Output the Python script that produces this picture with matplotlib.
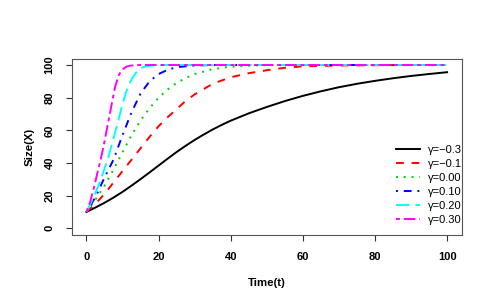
import matplotlib
matplotlib.use("Agg")
import matplotlib.pyplot as plt

plt.rcParams["font.family"] = ["Liberation Sans", "DejaVu Sans"]

# valori (t, X) per ogni gamma
t_m03 = [0, 2.5, 5, 7.5, 10, 12.5, 15, 17.5, 20, 22.5, 25, 27.5, 30, 32.5, 35, 37.5, 40,
         45, 50, 55, 60, 65, 70, 75, 80, 85, 90, 95, 100]
x_m03 = [10, 12.7, 15.6, 18.8, 22.3, 26.1, 30.1, 34.2, 38.4, 42.6, 46.7, 50.5, 54.1,
         57.4, 60.5, 63.3, 65.9, 70.4, 74.3, 77.9, 81.1, 83.9, 86.4, 88.5, 90.3, 91.9,
         93.3, 94.5, 95.6]

t_m01 = [0, 2.5, 5, 7.5, 10, 12.5, 15, 17.5, 20, 22.5, 25, 27.5, 30, 35, 40, 45, 50,
         55, 60, 70, 80, 90, 100]
x_m01 = [10, 15, 21, 28, 35, 42, 49, 56, 62.5, 68, 73, 78, 82, 88.5, 92.5, 95, 96.8,
         98.3, 99.2, 99.7, 99.9, 100, 100]

t_000 = [0, 2.5, 5, 7.5, 10, 12.5, 15, 17.5, 20, 22.5, 25, 27.5, 30, 35, 40, 45, 50, 60, 100]
x_000 = [10, 17.5, 26, 36, 46.5, 57, 66, 73.5, 80, 85, 89, 92, 94.5, 97.5, 99, 99.6,
         99.9, 100, 100]

t_010 = [0, 2.5, 5, 7.5, 10, 12.5, 15, 17.5, 20, 22.5, 25, 30, 35, 100]
x_010 = [10, 19, 31, 42, 57, 71, 82.5, 90, 94.5, 97, 98.7, 99.7, 100, 100]

t_020 = [0, 2, 4, 6, 8, 10, 11, 12, 13, 14, 15, 16, 18, 20, 25, 100]
x_020 = [10, 19, 30, 43, 59, 76, 83.5, 89, 93, 96, 97.8, 98.9, 99.7, 100, 100, 100]

t_030 = [0, 1, 2, 3, 4, 5, 6, 7, 8, 9, 10, 11, 12, 14, 16, 100]
x_030 = [10, 16, 24, 33.5, 42.5, 53, 64.5, 76, 87, 94, 97.3, 98.9, 99.6, 100, 100, 100]

labels = ["γ=−0.3", "γ=−0.1", "γ=0.00", "γ=0.10", "γ=0.20", "γ=0.30"]

SERIES = [
    (t_m03, x_m03, "#000000", "-"),
    (t_m01, x_m01, "#FF0000", (0, (4, 4))),
    (t_000, x_000, "#00CD00", (0, (1, 3))),
    (t_010, x_010, "#0000FF", (0, (1, 3, 4, 3))),
    (t_020, x_020, "#00FFFF", (0, (7, 3))),
    (t_030, x_030, "#FF00FF", (0, (2, 2, 6, 2))),
]

fig = plt.figure(figsize=(4.91, 3.07), dpi=100)
ax = fig.add_axes([72 / 491, 1 - 234.8 / 307, (461.5 - 72) / 491, (234.8 - 58.5) / 307])

for (t, x, col, ls), lab in zip(SERIES, labels):
    ax.plot(t, x, color=col, linestyle=ls, linewidth=1.4, label=lab)

ax.set_xlim(-4, 104)
ax.set_ylim(-4, 104)
ax.set_xticks([0, 20, 40, 60, 80, 100])
ax.set_yticks([0, 20, 40, 60, 80, 100])

for s in ax.spines.values():
    s.set_color("#555555")
    s.set_linewidth(0.8)

ax.tick_params(direction="out", length=4.5, width=0.8, color="#333333",
               labelsize=8, pad=8)
for lbl in ax.get_xticklabels() + ax.get_yticklabels():
    lbl.set_fontweight("bold")
for lbl in ax.get_yticklabels():
    lbl.set_rotation(90)
    lbl.set_va("center")

ax.set_xlabel("Time(t)", fontsize=8.2, fontweight="bold", labelpad=11.5)
ax.set_ylabel("Size(X)", fontsize=8.2, fontweight="bold", labelpad=7)

ax.legend(loc="center right", bbox_to_anchor=(1.0, 0.2825), frameon=False,
          fontsize=8, handlelength=2.15, handletextpad=0.7, labelspacing=0.36,
          borderaxespad=0, borderpad=0)

fig.savefig("out.png", dpi=100)
